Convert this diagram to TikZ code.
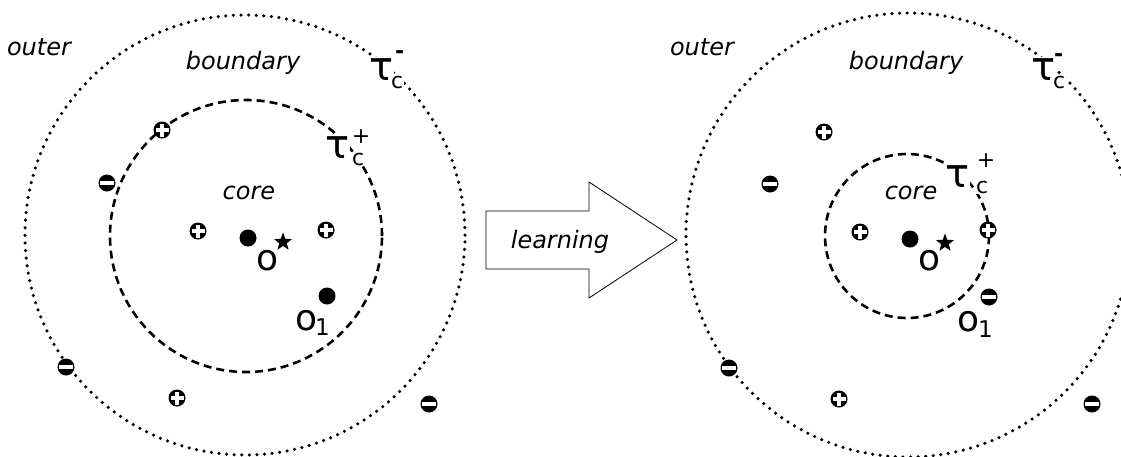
\documentclass[tikz,border=0pt]{standalone}
\usepackage{fontspec}
\setmainfont{DejaVu Sans}
\usetikzlibrary{shapes.geometric}
\tikzset{
  dotring/.style={line width=3.5pt, line cap=round, dash pattern=on 0pt off 7.6pt},
  dashring/.style={line width=2.6pt, dash pattern=on 8pt off 5pt},
  mk/.style={circle, fill=black, minimum size=17pt, inner sep=0pt},
  plusmk/.style={mk, path picture={
    \fill[white] ([xshift=-6.5pt,yshift=-2.2pt]path picture bounding box.center) rectangle ([xshift=6.5pt,yshift=2.2pt]path picture bounding box.center);
    \fill[white] ([xshift=-2.2pt,yshift=-6.5pt]path picture bounding box.center) rectangle ([xshift=2.2pt,yshift=6.5pt]path picture bounding box.center);}},
  minusmk/.style={mk, path picture={
    \fill[white] ([xshift=-7pt,yshift=-2.2pt]path picture bounding box.center) rectangle ([xshift=7pt,yshift=2.2pt]path picture bounding box.center);}},
  bigdot/.style={circle, fill=black, minimum size=17pt, inner sep=0pt},
  starmk/.style={star, star points=5, star point ratio=2.4, fill=black, minimum size=19pt, inner sep=0pt},
  region/.style={font=\fontsize{24}{24}\selectfont\itshape, inner sep=0pt, anchor=base},
  big/.style={font=\fontsize{36}{36}\selectfont, inner sep=0pt, anchor=base west},
  small/.style={font=\fontsize{22}{22}\selectfont, inner sep=0pt, anchor=base west},
  tau/.style={font=\fontsize{40}{40}\selectfont, anchor=base west, fill=white, inner sep=1pt},
  sgn/.style={font=\fontsize{22}{22}\selectfont\bfseries, inner sep=0pt, anchor=base west},
}
\begin{document}
\begin{tikzpicture}[x=1pt, y=-1pt]
\useasboundingbox (0,0) rectangle (1121,456);
\clip (0,0) rectangle (1121,456);
\fill[white] (0,0) rectangle (1121,456);

% ---------- left panel ----------
\draw[dotring] (245,235) circle[radius=220pt];
\draw[dashring] (246,236) circle[radius=136pt];

\node[region] (outerL) at (39,55) {outer};
\node[region] (boundL) at (243,69) {boundary};
\node[region] (coreL) at (249,199) {core};

\node[tau] (tauoL) at (368,80) {τ};
\node[small, fill=white, inner sep=1pt] (coL) at (390,88) {c};
\node[sgn] (moL) at (395,58) {-};
\node[tau] (tauiL) at (324,158) {τ};
\node[small, fill=white, inner sep=1pt] (ciL) at (351,165) {c};
\node[small, anchor=center] (piL) at (361,137) {+};

\node[plusmk] (p1L) at (162,130) {};
\node[minusmk] (m1L) at (107,183) {};
\node[plusmk] (p2L) at (198,231) {};
\node[plusmk] (p3L) at (326,230) {};
\node[minusmk] (m2L) at (66,367) {};
\node[plusmk] (p4L) at (177,398) {};
\node[minusmk] (m3L) at (429,404) {};

\node[bigdot] (oL) at (248,238) {};
\node[big] (olabL) at (256,270) {o};
\node[starmk] (starL) at (283,242) {};
\node[bigdot] (o1L) at (327,296) {};
\node[big] (o1labL) at (295,330) {o};
\node[small, font=\fontsize{23}{23}\selectfont] (o1subL) at (315,335) {1};

% ---------- arrow ----------
\draw[line width=0.8pt] (486,211) -- (589,211) -- (589,182) -- (677,240) -- (589,298) -- (589,269) -- (486,269) -- cycle;
\node[region] (learn) at (560,248) {learning};

% ---------- right panel ----------
\draw[dotring] (908,235) circle[radius=222pt];
\draw[dashring] (907,236) circle[radius=82pt];

\node[region] (outerR) at (702,55) {outer};
\node[region] (boundR) at (906,69) {boundary};
\node[region] (coreR) at (911,199) {core};

\node[tau] (tauoR) at (1030,80) {τ};
\node[small, fill=white, inner sep=1pt] (coR) at (1052,88) {c};
\node[sgn] (moR) at (1054,61) {-};
\node[tau] (tauiR) at (944,187) {τ};
\node[small, fill=white, inner sep=1pt] (ciR) at (975,193) {c};
\node[small, anchor=center] (piR) at (986,161) {+};

\node[plusmk] (p1R) at (824,132) {};
\node[minusmk] (m1R) at (770,184) {};
\node[plusmk] (p2R) at (860,232) {};
\node[plusmk] (p3R) at (988,230) {};
\node[minusmk] (m4R) at (989,297) {};
\node[minusmk] (m2R) at (729,368) {};
\node[plusmk] (p4R) at (839,399) {};
\node[minusmk] (m3R) at (1092,404) {};

\node[bigdot] (oR) at (910,239) {};
\node[big] (olabR) at (918,270) {o};
\node[starmk] (starR) at (945,243) {};
\node[big] (o1labR) at (957,331) {o};
\node[small, font=\fontsize{23}{23}\selectfont] (o1subR) at (978,337) {1};
\end{tikzpicture}
\end{document}
